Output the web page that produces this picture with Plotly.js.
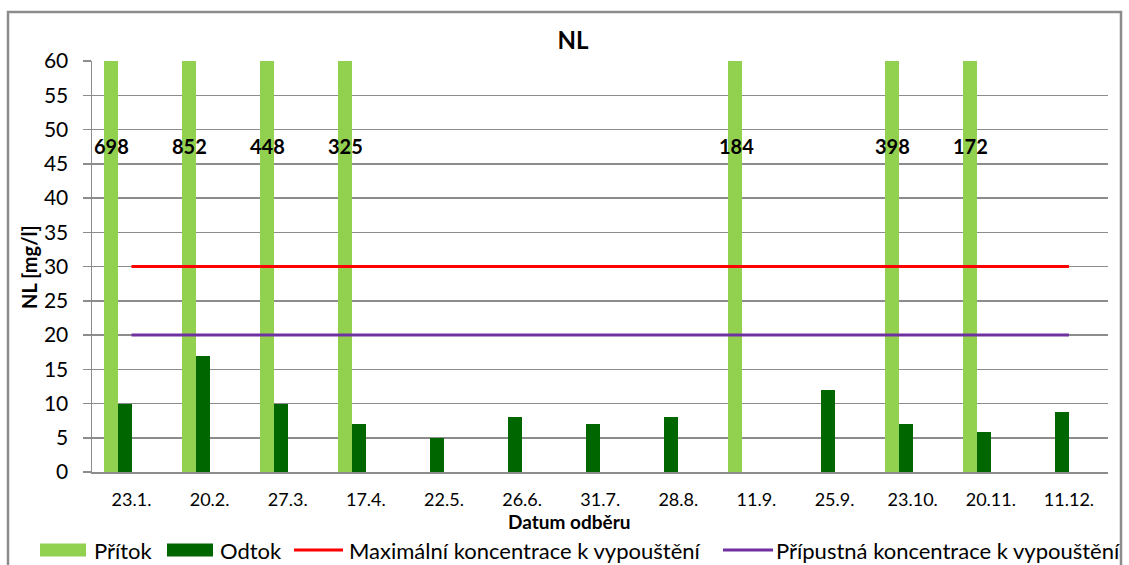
<!DOCTYPE html>
<html>
<head>
<meta charset="utf-8">
<script src="https://cdn.plot.ly/plotly-3.0.1.min.js"></script>
<style>
  html, body { margin: 0; padding: 0; background: #fff; }
  #chart { width: 1129px; height: 565px; }
</style>
</head>
<body>
<div id="chart"></div>
<script>
// Sampling dates
const dates = ['23.1.', '20.2.', '27.3.', '17.4.', '22.5.', '26.6.', '31.7.', '28.8.', '11.9.', '25.9.', '23.10.', '20.11.', '11.12.'];

// Suspended solids (NL) in mg/l
const pritok = [698, 852, 448, 325, null, null, null, null, 184, null, 398, 172, null];
const odtok = [10, 17, 10, 7, 5, 8, 7, 8, null, 12, 7, 5.8, 8.7];

// Discharge limits
const maxLimit = [30, 30, 30, 30, 30, 30, 30, 30, 30, 30, 30, 30, 30];
const allowedLimit = [20, 20, 20, 20, 20, 20, 20, 20, 20, 20, 20, 20, 20];

const yTicks = [0, 5, 10, 15, 20, 25, 30, 35, 40, 45, 50, 55, 60];

const FONT = 'Lato, "Noto Sans", sans-serif';
const GRID = '#8c8c8c';

const W = 1129, H = 565;
const M = { l: 92, r: 21, t: 61, b: 93 };
const plotW = W - M.l - M.r, plotH = H - M.t - M.b;
// pixel -> paper helpers for the frame and the legend
const px = v => (v - M.l) / plotW;
const py = v => (H - M.b - v) / plotH;

// bar geometry in category units (each bar ~ 0.18 of a category slot)
const barW = 0.179;

const series = [
  { name: 'Přítok', kind: 'bar', color: '#92D050' },
  { name: 'Odtok', kind: 'bar', color: '#006600' },
  { name: 'Maximální koncentrace k vypouštění', kind: 'line', color: '#FF0000' },
  { name: 'Přípustná koncentrace k vypouštění', kind: 'line', color: '#7030A0' }
];

const traces = [
  {
    type: 'bar', name: series[0].name, x: dates, y: pritok,
    marker: { color: series[0].color },
    width: barW, offset: -2 * barW
  },
  {
    type: 'bar', name: series[1].name, x: dates, y: odtok,
    marker: { color: series[1].color },
    width: barW, offset: -barW
  },
  {
    type: 'scatter', mode: 'lines', name: series[2].name,
    x: dates, y: maxLimit, line: { color: series[2].color, width: 3 }
  },
  {
    type: 'scatter', mode: 'lines', name: series[3].name,
    x: dates, y: allowedLimit, line: { color: series[3].color, width: 3 }
  }
];

// value labels for inflow bars that run past the axis maximum
const annotations = [];
dates.forEach((d, i) => {
  if (pritok[i] !== null) {
    annotations.push({
      x: d, y: 47.6, xref: 'x', yref: 'y', xshift: -20,
      text: '<b>' + pritok[i] + '</b>', showarrow: false,
      font: { family: FONT, size: 20, color: '#000' }
    });
  }
});

// axis titles
annotations.push({
  text: '<b>NL [mg/l]</b>', textangle: -90, showarrow: false,
  xref: 'paper', x: px(29), xanchor: 'center',
  yref: 'paper', y: py(267), yanchor: 'middle',
  font: { family: FONT, size: 20, color: '#000' }
});
annotations.push({
  text: '<b>Datum odběru</b>', showarrow: false, borderpad: 0,
  xref: 'paper', x: px(569), xanchor: 'center',
  yref: 'paper', y: py(521), yanchor: 'middle',
  font: { family: FONT, size: 19, color: '#000' }
});

const shapes = [
  {
    type: 'rect', xref: 'paper', yref: 'paper',
    x0: px(8), x1: px(1121), y0: py(600), y1: py(12),
    line: { color: '#8c8c8c', width: 2.5 }, fillcolor: 'rgba(0,0,0,0)',
    layer: 'below'
  }
];

// legend row: swatch span and text start for each series
const legendRow = [
  { sx0: 40, sx1: 86, tx: 92 },
  { sx0: 167, sx1: 213, tx: 218 },
  { sx0: 294, sx1: 343, tx: 347 },
  { sx0: 723, sx1: 773, tx: 774 }
];
const legendY = 550;
series.forEach((s, i) => {
  const r = legendRow[i];
  if (s.kind === 'bar') {
    shapes.push({
      type: 'rect', xref: 'paper', yref: 'paper',
      x0: px(r.sx0), x1: px(r.sx1), y0: py(legendY + 6.5), y1: py(legendY - 6.5),
      line: { width: 0 }, fillcolor: s.color
    });
  } else {
    shapes.push({
      type: 'line', xref: 'paper', yref: 'paper',
      x0: px(r.sx0), x1: px(r.sx1), y0: py(legendY), y1: py(legendY),
      line: { color: s.color, width: 3 }
    });
  }
  annotations.push({
    text: s.name, showarrow: false,
    xref: 'paper', x: px(r.tx), xanchor: 'left',
    yref: 'paper', y: py(legendY), yanchor: 'middle',
    font: { family: FONT, size: 22, color: '#000' }
  });
});

const layout = {
  width: W, height: H,
  margin: { l: M.l, r: M.r, t: M.t, b: M.b, autoexpand: false },
  paper_bgcolor: '#fff', plot_bgcolor: '#fff',
  font: { family: FONT, color: '#000' },
  title: {
    text: '<b>NL</b>', font: { family: FONT, size: 24, color: '#000' },
    xref: 'container', x: 573 / W, xanchor: 'center',
    yref: 'container', y: 1 - 41 / H, yanchor: 'middle'
  },
  showlegend: false,
  bargap: 0, barmode: 'overlay',
  xaxis: {
    type: 'category', tickvals: dates, ticktext: dates,
    showgrid: false, zeroline: false,
    showline: true, linecolor: GRID, linewidth: 1.5,
    ticks: '', ticklabelstandoff: 11,
    tickfont: { family: FONT, size: 18, color: '#000' },
    fixedrange: true
  },
  yaxis: {
    range: [0, 60], tickvals: yTicks,
    showgrid: true, gridcolor: GRID, gridwidth: 1.5,
    zeroline: false,
    showline: true, linecolor: GRID, linewidth: 1.5,
    ticks: 'outside', ticklen: 8, tickcolor: GRID, tickwidth: 1.5,
    ticklabelstandoff: 10,
    tickfont: { family: FONT, size: 21, color: '#000' },
    fixedrange: true
  },
  annotations: annotations,
  shapes: shapes
};

Plotly.newPlot('chart', traces, layout, { displayModeBar: false, staticPlot: true });
</script>
</body>
</html>
